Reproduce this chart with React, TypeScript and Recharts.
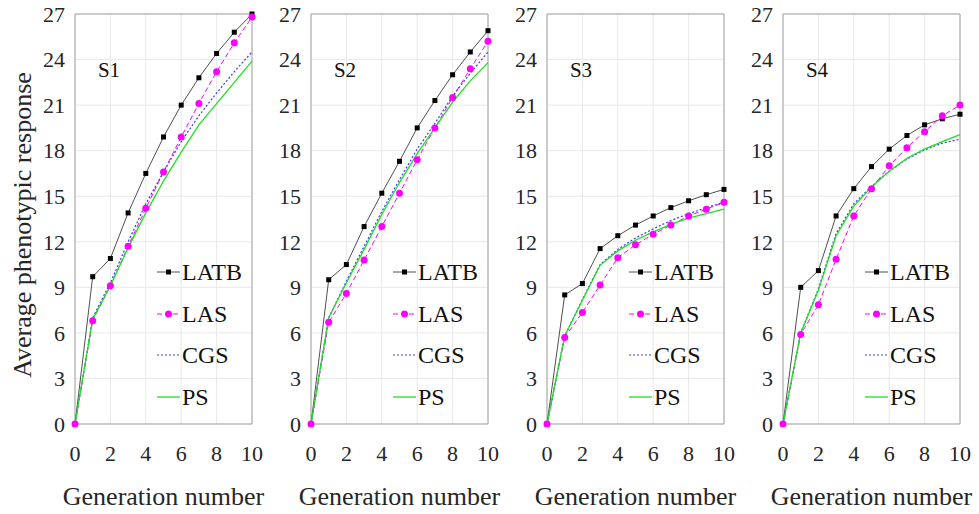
import React from 'react';
import { LineChart, Line, XAxis, YAxis, CartesianGrid, ReferenceArea, Legend } from 'recharts';

const generations = [0, 1, 2, 3, 4, 5, 6, 7, 8, 9, 10];
const xTicks = [0, 2, 4, 6, 8, 10];
const yTicks = [0, 3, 6, 9, 12, 15, 18, 21, 24, 27];
const panelNames = ['S1', 'S2', 'S3', 'S4'];

const s1Latb = [0, 9.7, 10.9, 13.9, 16.5, 18.9, 21.0, 22.8, 24.4, 25.8, 27.0];
const s1Las = [0, 6.8, 9.1, 11.7, 14.2, 16.6, 18.9, 21.1, 23.2, 25.1, 26.8];
const s1Cgs = [0, 7.0, 9.3, 12.0, 14.5, 16.6, 18.6, 20.3, 21.8, 23.2, 24.5];
const s1Ps = [0, 6.9, 9.1, 11.6, 13.9, 16.0, 17.9, 19.7, 21.1, 22.5, 23.9];

const s2Latb = [0, 9.5, 10.5, 13.0, 15.2, 17.3, 19.5, 21.3, 23.0, 24.5, 25.9];
const s2Las = [0, 6.7, 8.6, 10.8, 13.0, 15.2, 17.4, 19.5, 21.5, 23.4, 25.2];
const s2Cgs = [0, 7.0, 9.4, 11.7, 14.0, 16.1, 18.1, 19.8, 21.6, 23.1, 24.5];
const s2Ps = [0, 7.0, 9.3, 11.5, 13.8, 15.9, 17.8, 19.5, 21.2, 22.6, 23.8];

const s3Latb = [0, 8.5, 9.25, 11.55, 12.4, 13.1, 13.7, 14.25, 14.7, 15.1, 15.45];
const s3Las = [0, 5.7, 7.35, 9.15, 10.95, 11.8, 12.5, 13.1, 13.7, 14.15, 14.6];
const s3Cgs = [0, 5.8, 8.2, 10.5, 11.5, 12.25, 12.85, 13.4, 13.85, 14.25, 14.6];
const s3Ps = [0, 5.8, 8.15, 10.45, 11.4, 12.1, 12.65, 13.15, 13.55, 13.85, 14.15];

const s4Latb = [0, 9.0, 10.1, 13.7, 15.5, 16.95, 18.1, 19.0, 19.7, 20.1, 20.4];
const s4Las = [0, 5.9, 7.85, 10.85, 13.7, 15.5, 17.0, 18.2, 19.25, 20.3, 21.0];
const s4Cgs = [0, 6.0, 8.9, 12.55, 14.5, 15.65, 16.65, 17.45, 18.05, 18.5, 18.75];
const s4Ps = [0, 6.0, 8.8, 12.4, 14.35, 15.6, 16.65, 17.5, 18.1, 18.6, 19.05];

const panelSeries = [
  [s1Latb, s1Las, s1Cgs, s1Ps],
  [s2Latb, s2Las, s2Cgs, s2Ps],
  [s3Latb, s3Las, s3Cgs, s3Ps],
  [s4Latb, s4Las, s4Cgs, s4Ps],
];

const FONT = '"Liberation Serif", "Times New Roman", serif';
const TEXT = '#262626';
const CHART_W = 257;
const CHART_H = 514;
const PANEL_STEP = 236;
const FIRST_LEFT = 35;

const buildRows = (series: number[][]) =>
  generations.map((g, i) => ({
    g,
    latb: series[0][i],
    las: series[1][i],
    cgs: series[2][i],
    ps: series[3][i],
  }));

const SquareDot = (props: any) => {
  const { cx, cy, index } = props;
  if (cx == null || cy == null) return <g key={`sq-${index}`} />;
  return <rect key={`sq-${index}`} x={cx - 2.5} y={cy - 2.5} width={5} height={5} fill="#000" />;
};

const legendItems = [
  { name: 'LATB', stroke: '#222', dash: undefined, marker: 'square', width: 0.8 },
  { name: 'LAS', stroke: '#ff00ff', dash: '5 3', marker: 'circle', width: 1 },
  { name: 'CGS', stroke: '#3a3aff', dash: '2 2', marker: 'none', width: 1.2 },
  { name: 'PS', stroke: '#1fe01f', dash: undefined, marker: 'none', width: 1.3 },
];

const renderLegend = () => (
  <div style={{ fontFamily: FONT, fontSize: 24, color: '#111' }}>
    {legendItems.map((it) => (
      <div key={it.name} style={{ display: 'flex', alignItems: 'center', height: 41.7 }}>
        <svg width={25} height={10} style={{ display: 'block' }}>
          <line x1={0} x2={23} y1={5} y2={5} stroke={it.stroke} strokeWidth={it.width} strokeDasharray={it.dash} />
          {it.marker === 'square' && <rect x={9} y={2.5} width={5} height={5} fill="#000" />}
          {it.marker === 'circle' && <circle cx={11.5} cy={5} r={3.5} fill="#ff00ff" />}
        </svg>
        <span style={{ lineHeight: '24px' }}>{it.name}</span>
      </div>
    ))}
  </div>
);

const Panel = ({ index }: { index: number }) => {
  const rows = buildRows(panelSeries[index]);
  return (
    <div style={{ position: 'absolute', left: FIRST_LEFT + index * PANEL_STEP, top: 0 }}>
      <LineChart width={CHART_W} height={CHART_H} data={rows} margin={{ top: 14, right: 40, left: 0, bottom: 0 }}>
        <CartesianGrid stroke="#e8e8e8" strokeWidth={1} />
        <XAxis
          dataKey="g"
          type="number"
          domain={[0, 10]}
          ticks={xTicks}
          height={90}
          axisLine={false}
          tickLine={false}
          tickMargin={15}
          tick={{ fontFamily: FONT, fontSize: 22, fill: TEXT }}
          label={{ value: 'Generation number', position: 'insideBottom', offset: 9, fontFamily: FONT, fontSize: 26, fill: TEXT }}
        />
        <YAxis
          type="number"
          domain={[0, 27]}
          ticks={yTicks}
          width={40}
          axisLine={false}
          tickLine={false}
          tickMargin={4}
          tick={{ fontFamily: FONT, fontSize: 22, fill: TEXT }}
        />
        <ReferenceArea x1={0} x2={10} y1={0} y2={27} fill="none" stroke="#a3a3a3" strokeWidth={1} />
        <Line type="linear" dataKey="latb" name="LATB" stroke="#222" strokeWidth={0.8} dot={SquareDot} isAnimationActive={false} />
        <Line
          type="linear"
          dataKey="las"
          name="LAS"
          stroke="#ff00ff"
          strokeWidth={1}
          strokeDasharray="5 3"
          dot={{ r: 3.5, fill: '#ff00ff', stroke: '#ff00ff', strokeWidth: 0 }}
          isAnimationActive={false}
        />
        <Line type="linear" dataKey="cgs" name="CGS" stroke="#3a3aff" strokeWidth={1.2} strokeDasharray="2 2" dot={false} isAnimationActive={false} />
        <Line type="linear" dataKey="ps" name="PS" stroke="#1fe01f" strokeWidth={1.3} dot={false} isAnimationActive={false} />
        <Legend
          layout="vertical"
          align="center"
          verticalAlign="middle"
          content={renderLegend}
          wrapperStyle={{ left: 122, top: 251, width: 110 }}
        />
      </LineChart>
      <div
        style={{
          position: 'absolute',
          left: 74,
          top: 70,
          transform: 'translate(-50%, -50%)',
          fontFamily: FONT,
          fontSize: 21,
          color: '#111',
          lineHeight: '22px',
        }}
      >
        {panelNames[index]}
      </div>
    </div>
  );
};

export default function App() {
  return (
    <div style={{ position: 'absolute', left: 0, top: 0, width: 979, height: 514, background: '#fff', overflow: 'hidden' }}>
      <svg width={40} height={514} style={{ position: 'absolute', left: 0, top: 0 }}>
        <text
          x={31}
          y={225}
          transform="rotate(-90 31 225)"
          textAnchor="middle"
          fontFamily={FONT}
          fontSize={26}
          fill={TEXT}
        >
          Average phenotypic response
        </text>
      </svg>
      {panelNames.map((_, i) => (
        <Panel key={i} index={i} />
      ))}
    </div>
  );
}
